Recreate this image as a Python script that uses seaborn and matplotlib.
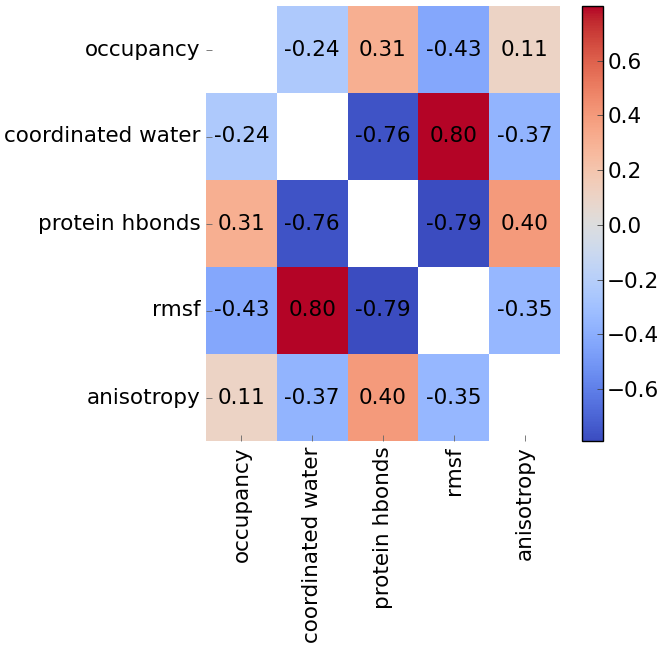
import numpy as np
import pandas as pd
import matplotlib
matplotlib.use("Agg")
import matplotlib.pyplot as plt
import seaborn as sns

labels = ["occupancy", "coordinated water", "protein hbonds", "rmsf", "anisotropy"]
row_occupancy = [np.nan, -0.24, 0.31, -0.43, 0.11]
row_coord_water = [-0.24, np.nan, -0.76, 0.80, -0.37]
row_protein_hbonds = [0.31, -0.76, np.nan, -0.79, 0.40]
row_rmsf = [-0.43, 0.80, -0.79, np.nan, -0.35]
row_anisotropy = [0.11, -0.37, 0.40, -0.35, np.nan]
cbar_ticks = [-0.6, -0.4, -0.2, 0.0, 0.2, 0.4, 0.6]

df = pd.DataFrame([row_occupancy, row_coord_water, row_protein_hbonds, row_rmsf, row_anisotropy],
                  index=labels, columns=labels)

FS = 15.5
plt.rcParams['font.family'] = ['DejaVu Sans']
plt.rcParams['font.size'] = FS

fig = plt.figure(figsize=(6.63, 6.55), dpi=100)
ax = fig.add_axes([206/663, 1 - 441/655, 354/663, 435/655])
cax = fig.add_axes([582/663, 1 - 441/655, 21/663, 435/655])

sns.heatmap(df, ax=ax, cbar_ax=cax, cmap="coolwarm", annot=True, fmt=".2f",
            annot_kws={"color": "black", "fontsize": FS},
            vmin=np.nanmin(df.values), vmax=np.nanmax(df.values))

ax.tick_params(axis='both', direction='in', length=4, width=0.6, color='#666666', labelsize=FS, pad=4)
ax.set_xticklabels(labels, rotation=90)
ax.set_yticklabels(labels, rotation=0)

cax.set_yticks(cbar_ticks)
cax.set_yticklabels([f"{t:.1f}".replace("-", "\u2212") for t in cbar_ticks])
cax.tick_params(direction='in', length=4, width=0.6, color='#444444', labelsize=FS, pad=3)
cb = ax.collections[0].colorbar
cb.outline.set_edgecolor('black')
cb.outline.set_linewidth(1.0)

fig.savefig("out.png", dpi=100, facecolor="white")
